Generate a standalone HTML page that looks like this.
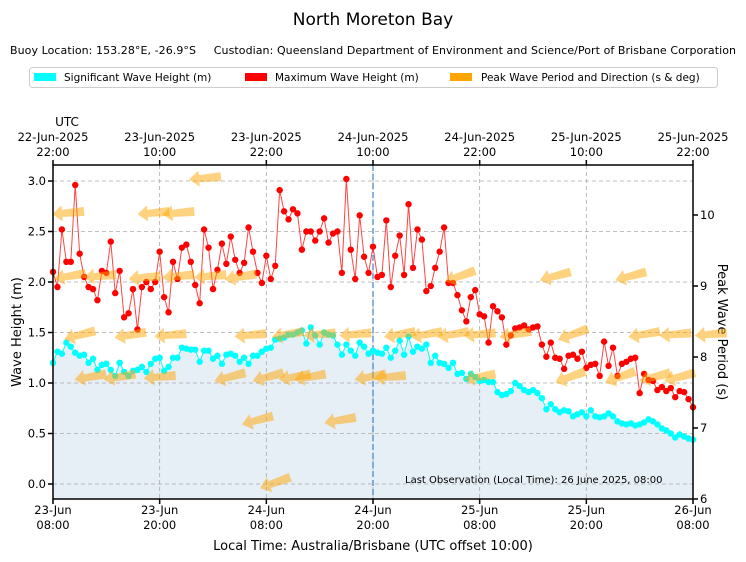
<!DOCTYPE html>
<html><head><meta charset="utf-8">
<style>
html,body{margin:0;padding:0;background:#fff;}
svg{display:block;font-family:"DejaVu Sans","Liberation Sans",sans-serif;}
</style></head>
<body>
<svg id="chart" width="746" height="562" viewBox="0 0 746 562">
<text x="373" y="25" font-size="17" text-anchor="middle">North Moreton Bay</text>
<text x="373" y="54" font-size="11" text-anchor="middle" style="white-space:pre" xml:space="preserve" textLength="726" lengthAdjust="spacing">Buoy Location: 153.28°E, -26.9°S     Custodian: Queensland Department of Environment and Science/Port of Brisbane Corporation</text>
<g>
<rect x="29.5" y="67.5" width="688" height="20" rx="3" fill="#fff" stroke="#ccc"/>
<g><rect x="34" y="73" width="22" height="8" fill="#00ffff"/><text x="64" y="81" font-size="10.5">Significant Wave Height (m)</text></g>
<g><rect x="245" y="73" width="22" height="8" fill="#ff0000"/><text x="275" y="81" font-size="10.5">Maximum Wave Height (m)</text></g>
<g><rect x="450" y="73" width="22" height="8" fill="#ffa500"/><text x="481" y="81" font-size="10.5">Peak Wave Period and Direction (s &amp; deg)</text></g>
</g>
<text x="67" y="126" font-size="12" text-anchor="middle">UTC</text>
<text x="373" y="550" font-size="13" text-anchor="middle">Local Time: Australia/Brisbane (UTC offset 10:00)</text>
<text transform="translate(21,332) rotate(-90)" font-size="13" text-anchor="middle">Wave Height (m)</text>
<text transform="translate(718,332) rotate(90)" font-size="13" text-anchor="middle">Peak Wave Period (s)</text>
<g id="plot"></g>
</svg>
<script>
const hmax=[2.1,1.95,2.52,2.2,2.2,2.96,2.28,2.05,1.95,1.93,1.82,2.11,2.09,2.4,1.89,2.11,1.65,1.69,1.93,1.53,1.95,2.0,1.93,2.0,2.3,1.85,1.7,2.2,2.03,2.34,2.37,2.2,1.97,1.79,2.52,2.34,1.93,2.12,2.38,2.18,2.45,2.22,2.09,2.19,2.54,2.3,2.09,1.99,2.26,
2.03,2.16,2.91,2.7,2.62,2.72,2.68,2.32,2.5,2.5,2.41,2.5,2.63,2.39,2.48,2.5,2.09,3.02,2.32,2.03,2.66,2.25,2.09,2.35,2.05,2.07,2.61,1.95,2.26,2.46,2.07,2.77,2.14,2.52,2.42,1.91,1.96,2.14,2.3,2.54,1.99,1.99,1.87,1.72,1.61,1.85,1.92,1.68,
1.66,1.4,1.76,1.71,1.65,1.38,1.47,1.54,1.55,1.57,1.53,1.55,1.56,1.38,1.26,1.4,1.25,1.24,1.14,1.27,1.28,1.24,1.31,1.15,1.18,1.19,1.07,1.41,1.17,1.35,1.07,1.19,1.21,1.24,1.25,0.9,1.09,1.03,1.02,0.93,0.96,0.92,0.95,0.86,0.92,0.91,0.84,0.76];
const hsig=[1.2,1.31,1.29,1.4,1.36,1.3,1.27,1.28,1.2,1.24,1.13,1.18,1.19,1.13,1.07,1.2,1.11,1.07,1.12,1.13,1.16,1.11,1.19,1.24,1.25,1.12,1.16,1.25,1.25,1.35,1.34,1.33,1.33,1.21,1.32,1.32,1.24,1.27,1.19,1.28,1.29,1.27,1.21,1.25,1.19,1.27,1.27,1.31,1.34,
1.35,1.43,1.44,1.45,1.48,1.48,1.5,1.52,1.39,1.55,1.47,1.38,1.5,1.48,1.47,1.38,1.28,1.38,1.32,1.27,1.4,1.36,1.29,1.32,1.3,1.29,1.35,1.25,1.32,1.42,1.28,1.46,1.31,1.36,1.34,1.38,1.2,1.27,1.2,1.19,1.15,1.2,1.09,1.1,1.04,1.09,1.06,1.02,
1.03,1.01,1.01,0.91,0.88,0.89,0.92,1.0,0.97,0.93,0.91,0.93,0.9,0.85,0.74,0.79,0.74,0.71,0.73,0.72,0.67,0.69,0.71,0.67,0.73,0.67,0.66,0.67,0.7,0.67,0.62,0.6,0.59,0.6,0.58,0.59,0.61,0.64,0.62,0.59,0.55,0.53,0.5,0.46,0.49,0.47,0.45,0.44];
const arrowHour=[1.7,11.3,14.1,17.1,1.9,5.3,10.3,14.1,17.7,21.1,3.0,13.2,22.2,26.4,30.0,34.0,39.0,42.0,45.0,48.0,52.0,58.5,66.5,70.0,74.0,4.2,7.5,12.0,19.9,24.2,27.2,28.9,35.7,37.9,48.0,58.2,63.8,67.7,70.5,23.0,32.3,25.0,45.8,56.5,65.0,8.7];
const arrowPeriod=[10.03,10.03,10.03,10.52,9.14,9.14,9.12,9.14,9.14,9.13,8.31,8.31,8.31,8.32,8.32,8.32,8.32,8.32,8.32,8.32,8.32,8.32,8.32,8.32,8.32,7.72,7.72,7.72,7.72,7.72,7.72,7.72,7.72,7.72,7.72,7.72,7.72,7.72,7.72,7.11,7.11,6.23,9.14,9.14,9.14,8.31];
const arrowDir=[95,95,95,95,100,95,95,95,95,100,105,95,95,100,95,95,100,100,100,95,100,110,100,95,95,100,100,95,105,105,100,100,100,95,100,110,110,105,105,105,100,110,110,105,105,100];
const bottomTicks=["23-Jun|08:00","23-Jun|20:00","24-Jun|08:00","24-Jun|20:00","25-Jun|08:00","25-Jun|20:00","26-Jun|08:00"];
const topTicks=["22-Jun-2025|22:00","23-Jun-2025|10:00","23-Jun-2025|22:00","24-Jun-2025|10:00","24-Jun-2025|22:00","25-Jun-2025|10:00","25-Jun-2025|22:00"];
const yTicks=[0,0.5,1,1.5,2,2.5,3];
const y2Ticks=[6,7,8,9,10];

const L=53,R=693,T=165,B=499;
const X=h=>L+(R-L)*h/72;
const Y=v=>484-v*101;
const Y2=p=>499-(p-6)*71;
const NS="http://www.w3.org/2000/svg";
const plot=document.getElementById('plot');
function mk(tag,attrs,parent){const e=document.createElementNS(NS,tag);for(const k in attrs)e.setAttribute(k,attrs[k]);(parent||plot).appendChild(e);return e;}

let d=`M${X(0)},${B} `+hsig.map((v,i)=>`L${X(i*0.5)},${Y(v)}`).join(' ')+` L${X((hsig.length-1)*0.5)},${B} Z`;
const area=mk('path',{d:d,fill:'#e6eef6'});


yTicks.forEach(v=>{const g=mk('line',{x1:L,x2:R,y1:Y(v),y2:Y(v),stroke:'#aaa','stroke-dasharray':'4,3','stroke-width':0.8});

});
bottomTicks.forEach((t,i)=>{const x=X(i*12);const g=mk('line',{x1:x,x2:x,y1:T,y2:B,stroke:'#aaa','stroke-dasharray':'4,3','stroke-width':0.8});

});
const lo=mk('line',{x1:X(36),x2:X(36),y1:T,y2:B,stroke:'#3b82c4','stroke-dasharray':'6,3','stroke-width':1.2});


const hl=mk('polyline',{points:hsig.map((v,i)=>`${X(i*0.5)},${Y(v)}`).join(' '),fill:'none',stroke:'#00ffff','stroke-width':1});


hsig.forEach((v,i)=>{const c=mk('circle',{cx:X(i*0.5),cy:Y(v),r:3.2,fill:'#00ffff'});

});
const ml=mk('polyline',{points:hmax.map((v,i)=>`${X(i*0.5)},${Y(v)}`).join(' '),fill:'none',stroke:'#ff4444','stroke-width':1});


hmax.forEach((v,i)=>{const c=mk('circle',{cx:X(i*0.5),cy:Y(v),r:3.2,fill:'#ff0000'});

});
arrowHour.forEach((h,i)=>{const x=X(h),y=Y2(arrowPeriod[i]);const rot=90-arrowDir[i];
const a=mk('path',{d:'M-16,0 L-6,-8 L-6,-3.5 L16,-4.5 L16,4.5 L-6,3.5 L-6,8 Z',fill:'#ffa500','fill-opacity':0.5,transform:`translate(${x},${y}) rotate(${rot})`});

});
const fr=mk('rect',{x:L,y:T,width:R-L,height:B-T,fill:'none',stroke:'#000','stroke-width':1.5});


yTicks.forEach(v=>{mk('line',{x1:L-5,x2:L,y1:Y(v),y2:Y(v),stroke:'#000','stroke-width':1.5});
const t=mk('text',{x:L-7,y:Y(v)+4,'font-size':11.5,'text-anchor':'end'});t.textContent=v.toFixed(1);

});
y2Ticks.forEach(v=>{mk('line',{x1:R,x2:R+5,y1:Y2(v),y2:Y2(v),stroke:'#000','stroke-width':1.5});
const t=mk('text',{x:R+7,y:Y2(v)+4,'font-size':11.5});t.textContent=v;

});
bottomTicks.forEach((s,i)=>{const x=X(i*12);mk('line',{x1:x,x2:x,y1:B,y2:B+5,stroke:'#000','stroke-width':1.5});
mk('line',{x1:x,x2:x,y1:T-5,y2:T,stroke:'#000','stroke-width':1.5});
const p=s.split('|');const t=mk('text',{x:x,y:514,'font-size':11.5,'text-anchor':'middle'});t.textContent=p[0];


const t2=mk('text',{x:x,y:529,'font-size':11.5,'text-anchor':'middle'});t2.textContent=p[1];

});
topTicks.forEach((s,i)=>{const x=X(i*12);const p=s.split('|');
const t=mk('text',{x:x,y:141,'font-size':11.5,'text-anchor':'middle'});t.textContent=p[0];


const t2=mk('text',{x:x,y:156,'font-size':11.5,'text-anchor':'middle'});t2.textContent=p[1];

});
const lt=mk('text',{x:405,y:483,'font-size':10});lt.textContent='Last Observation (Local Time): 26 June 2025, 08:00';


</script>
</body></html>
